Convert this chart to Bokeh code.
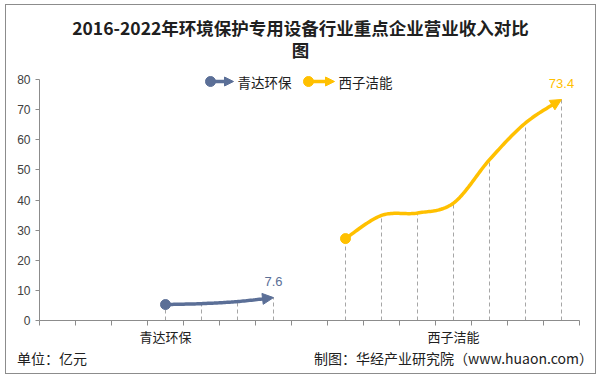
import numpy as np
from bokeh.plotting import figure
from bokeh.models import Range1d, FixedTicker, Label, Arrow, NormalHead, LinearAxis
from bokeh.embed import file_html
from bokeh.resources import INLINE

# ---------------- data ----------------
title_text = "2016-2022年环境保护专用设备行业重点企业营业收入对比"
title_text2 = "图"
companies = ["青达环保", "西子洁能"]
years = ["2016", "2017", "2018", "2019", "2020", "2021", "2022"]
qingda_years = ["2019", "2020", "2021", "2022"]
qingda_values = [5.3, 5.6, 6.3, 7.6]
xizi_years = ["2016", "2017", "2018", "2019", "2020", "2021", "2022"]
xizi_values = [27.2, 34.9, 35.7, 39.0, 53.4, 65.6, 73.4]
y_ticks = [0, 10, 20, 30, 40, 50, 60, 70, 80]
unit_text = "单位：亿元"
source_text = "制图：华经产业研究院（www.huaon.com）"

BLUE = "#5B6F97"
YELLOW = "#FFC000"
GRAY = "#8C8C8C"
TXT = "#404040"
CJK = "Noto Sans CJK SC"

# slot layout: group 1 = 7 slots (2016-2022), group 2 = 8 slots (gap + 2016-2022)
group_slots = [(0, 7), (7, 15)]
def slot_x(group, year):
    start = group_slots[group][0] + (0 if group == 0 else 1)
    return start + years.index(year) + 0.5

qx = [slot_x(0, y) for y in qingda_years]
xx = [slot_x(1, y) for y in xizi_years]

# ---------------- figure geometry ----------------
W, H = 600, 377
ML, MB = 39, 57
SLOT = 36.0              # px per category slot
YPX = 240.9 / 80         # px per value unit
FW, FH = W - ML, H - MB
XMAX = FW / SLOT
YMAX = FH / YPX
def X(px):
    return (px - ML) / SLOT
def Y(py):
    return (FH - py) / YPX

p = figure(width=W, height=H, output_backend="svg", toolbar_location=None,
           x_range=Range1d(0, XMAX), y_range=Range1d(0, YMAX),
           min_border_left=ML, min_border_right=0, min_border_top=0, min_border_bottom=MB)
p.outline_line_color = None
p.xgrid.visible = False
p.ygrid.visible = False
p.background_fill_color = "white"
p.border_fill_color = "white"
p.stylesheets = [":host::after { content: ''; position: absolute; left: 5px; top: 4px; "
                 "width: 589px; height: 368px; border: 1px solid #8C8C8C; pointer-events: none; }"]

ya = p.yaxis[0]
ya.ticker = FixedTicker(ticks=y_ticks)
ya.bounds = (0, 80)
ya.axis_line_color = GRAY
ya.major_tick_line_color = GRAY
ya.major_tick_out = 4
ya.major_tick_in = 0
ya.minor_tick_line_color = None
ya.major_label_text_font = "Liberation Sans"
ya.major_label_text_font_size = "12px"
ya.major_label_text_color = TXT
ya.major_label_standoff = 5

xa = p.xaxis[0]
xa.ticker = FixedTicker(ticks=list(range(16)))
xa.bounds = (0, 15)
xa.axis_line_color = GRAY
xa.major_tick_line_color = GRAY
xa.major_tick_out = 5
xa.major_tick_in = 0
xa.minor_tick_line_color = None
xa.major_label_overrides = {i: "" for i in range(16)}
xa.major_label_text_font_size = "1px"
xa.major_label_standoff = 0

# group label axis
ga = LinearAxis(ticker=FixedTicker(ticks=[3.5, 11.5]),
                major_label_overrides={3.5: companies[0], 11.5: companies[1]},
                axis_line_color=None, major_tick_line_color=None, minor_tick_line_color=None,
                major_tick_out=0, major_tick_in=0, major_label_standoff=1,
                major_label_text_font=CJK, major_label_text_font_size="13px",
                major_label_text_color="#202020")
p.add_layout(ga, "below")

# footer axis
fa = LinearAxis(ticker=FixedTicker(ticks=[0.35, 11.5]),
                major_label_overrides={0.35: unit_text, 11.5: source_text},
                axis_line_color=None, major_tick_line_color=None, minor_tick_line_color=None,
                major_tick_out=0, major_tick_in=0, major_label_standoff=-1,
                major_label_text_font=CJK, major_label_text_font_size="14px",
                major_label_text_color="#202020")
p.add_layout(fa, "below")

# ---------------- smoothing (Catmull-Rom through data points) ----------------
def smooth(xs, ys, n=24):
    xs = np.asarray(xs, float); ys = np.asarray(ys, float)
    P = np.column_stack([xs, ys])
    P = np.vstack([P[0], P, P[-1]])
    out = []
    for i in range(1, len(P) - 2):
        p0, p1, p2, p3 = P[i - 1], P[i], P[i + 1], P[i + 2]
        c1 = p1 + (p2 - p0) / 6
        c2 = p2 - (p3 - p1) / 6
        t = np.linspace(0, 1, n)[:, None]
        seg = ((1 - t) ** 3) * p1 + 3 * ((1 - t) ** 2) * t * c1 + 3 * (1 - t) * t ** 2 * c2 + t ** 3 * p2
        out.append(seg if i == 1 else seg[1:])
    pts = np.vstack(out)
    return pts[:, 0], pts[:, 1]

# drop lines
for xs_, vs_ in ((qx, qingda_values), (xx, xizi_values)):
    p.segment(x0=xs_, y0=[0] * len(xs_), x1=xs_, y1=vs_, line_color="#A6A6A6",
              line_width=1, line_dash="4 3")

for xs_, vs_, col in ((qx, qingda_values, BLUE), (xx, xizi_values, YELLOW)):
    sx, sy = smooth(xs_, vs_)
    p.line(sx[:-4], sy[:-4], line_color=col, line_width=3.5)
    p.scatter([xs_[0]], [vs_[0]], size=10, color=col)
    p.add_layout(Arrow(end=NormalHead(size=11, fill_color=col, line_color=col),
                       x_start=sx[-8], y_start=sy[-8], x_end=sx[-1], y_end=sy[-1],
                       line_color=col, line_width=3.5))
    p.add_layout(Label(x=xs_[-1], y=vs_[-1], text=f"{vs_[-1]}", text_color=col,
                       text_font="Liberation Sans", text_font_size="13px",
                       text_align="center", text_baseline="middle", y_offset=16))

# legend
for (px0, px1, tx, name, col) in ((210, 233, 237, companies[0], BLUE), (308, 334, 338, companies[1], YELLOW)):
    p.line([X(px0), X(px1 - 6)], [Y(81), Y(81)], line_color=col, line_width=3.5)
    p.scatter([X(px0)], [Y(81)], size=10, color=col)
    p.add_layout(Arrow(end=NormalHead(size=9, fill_color=col, line_color=col),
                       x_start=X(px1 - 8), y_start=Y(81), x_end=X(px1), y_end=Y(81),
                       line_color=col, line_width=3))
    p.add_layout(Label(x=X(tx), y=Y(81), text=name, text_color="#202020",
                       text_font=CJK, text_font_size="13.5px",
                       text_align="left", text_baseline="middle"))

# title
p.add_layout(Label(x=X(300), y=Y(27), text=title_text, text_color="#202020",
                   text_font=CJK, text_font_size="17.5px", text_font_style="bold",
                   text_align="center", text_baseline="middle"))
p.add_layout(Label(x=X(300), y=Y(49), text=title_text2, text_color="#202020",
                   text_font=CJK, text_font_size="17.5px", text_font_style="bold",
                   text_align="center", text_baseline="middle"))

open("out.html", "w").write(file_html(p, INLINE))
